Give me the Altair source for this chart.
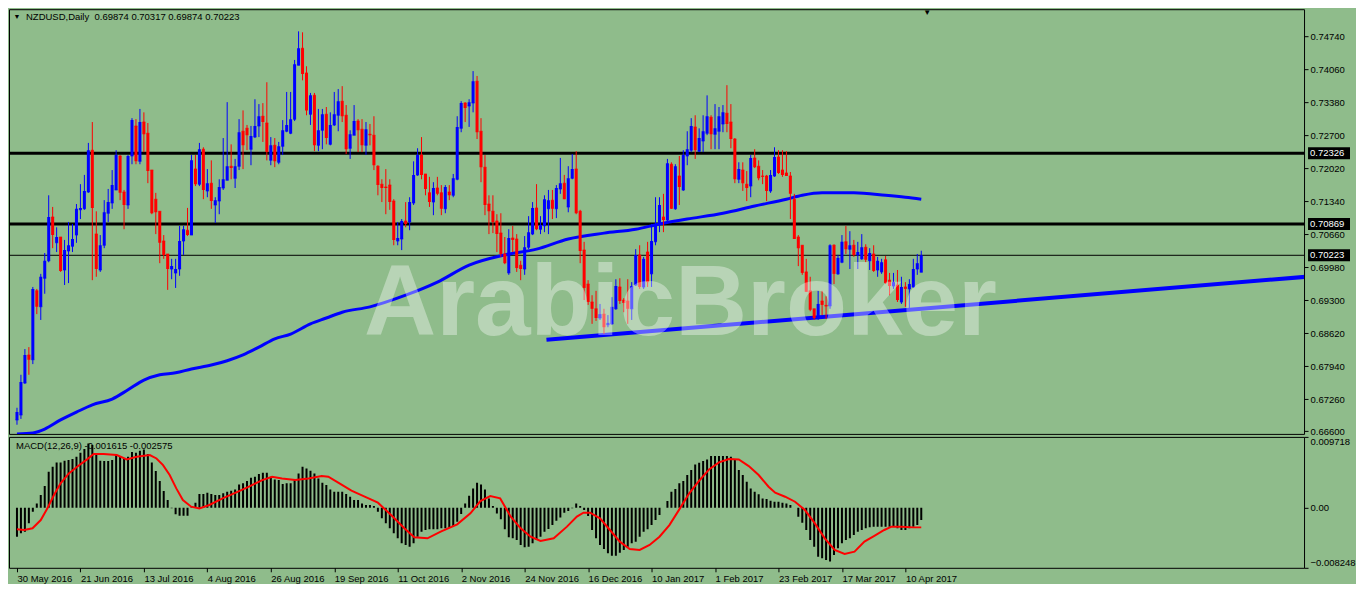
import altair as alt
import pandas as pd

GREEN = "#8FBC8B"
FONT = "Liberation Sans"
W = 1296
H_MAIN = 425
H_MACD = 131

opens = [0.6683, 0.6693, 0.6759, 0.6817, 0.6807, 0.6949, 0.6916, 0.6975, 0.7011, 0.7101,
         0.7048, 0.7060, 0.6992, 0.7031, 0.7041, 0.7064, 0.7116, 0.7118, 0.7153, 0.7239,
         0.7066, 0.6992, 0.7043, 0.7109, 0.7130, 0.7157, 0.7227, 0.7153, 0.7126, 0.7227,
         0.7289, 0.7216, 0.7297, 0.7274, 0.7198, 0.7138, 0.7113, 0.7052, 0.7025, 0.6994,
         0.6986, 0.6994, 0.7052, 0.7074, 0.7064, 0.7200, 0.7169, 0.7241, 0.7155, 0.7171,
         0.7126, 0.7134, 0.7161, 0.7177, 0.7206, 0.7181, 0.7206, 0.7278, 0.7284, 0.7241,
         0.7266, 0.7289, 0.7309, 0.7295, 0.7218, 0.7249, 0.7214, 0.7247, 0.7278, 0.7274,
         0.7303, 0.7414, 0.7449, 0.7398, 0.7313, 0.7352, 0.7249, 0.7280, 0.7313, 0.7251,
         0.7291, 0.7311, 0.7340, 0.7311, 0.7243, 0.7270, 0.7299, 0.7282, 0.7249, 0.7272,
         0.7270, 0.7206, 0.7169, 0.7163, 0.7167, 0.7134, 0.7052, 0.7056, 0.7093, 0.7091,
         0.7130, 0.7188, 0.7229, 0.7190, 0.7151, 0.7132, 0.7161, 0.7151, 0.7118, 0.7153,
         0.7146, 0.7179, 0.7284, 0.7336, 0.7330, 0.7336, 0.7381, 0.7278, 0.7204, 0.7128,
         0.7113, 0.7093, 0.7068, 0.7025, 0.6986, 0.7058, 0.7056, 0.7002, 0.6994, 0.7039,
         0.7066, 0.7120, 0.7076, 0.7083, 0.7118, 0.7136, 0.7118, 0.7159, 0.7171, 0.7122,
         0.7181, 0.7200, 0.7113, 0.7033, 0.6963, 0.6926, 0.6912, 0.6893, 0.6901, 0.6879,
         0.6881, 0.6912, 0.6957, 0.6930, 0.6928, 0.6912, 0.6961, 0.7023, 0.6957, 0.7029,
         0.6984, 0.7050, 0.7087, 0.7101, 0.7095, 0.7210, 0.7118, 0.7186, 0.7157, 0.7227,
         0.7239, 0.7287, 0.7237, 0.7258, 0.7274, 0.7307, 0.7272, 0.7278, 0.7293, 0.7315,
         0.7297, 0.7262, 0.7179, 0.7198, 0.7169, 0.7165, 0.7223, 0.7206, 0.7186, 0.7186,
         0.7155, 0.7186, 0.7225, 0.7198, 0.7192, 0.7186, 0.7138, 0.7060, 0.7043, 0.6988,
         0.6949, 0.6912, 0.6895, 0.6928, 0.6919, 0.6918, 0.7043, 0.6984, 0.7008, 0.7050,
         0.7035, 0.7043, 0.7023, 0.7015, 0.7039, 0.7011, 0.7025, 0.6992, 0.6988, 0.7013,
         0.6971, 0.6959, 0.6961, 0.6926, 0.6957, 0.6953, 0.6957, 0.6994, 0.69874]
highs = [0.6708, 0.6776, 0.6829, 0.6833, 0.6957, 0.6953, 0.6984, 0.7027, 0.7146, 0.7122,
         0.7080, 0.7060, 0.7054, 0.7091, 0.7087, 0.7128, 0.7169, 0.7188, 0.7254, 0.7297,
         0.7113, 0.7064, 0.7136, 0.7159, 0.7198, 0.7239, 0.7229, 0.7157, 0.7229, 0.7305,
         0.7303, 0.7324, 0.7317, 0.7295, 0.7198, 0.7151, 0.7113, 0.7064, 0.7025, 0.7015,
         0.7015, 0.7083, 0.7083, 0.7120, 0.7229, 0.7229, 0.7254, 0.7245, 0.7200, 0.7218,
         0.7142, 0.7179, 0.7264, 0.7338, 0.7251, 0.7221, 0.7303, 0.7321, 0.7291, 0.7289,
         0.7344, 0.7334, 0.7336, 0.7379, 0.7266, 0.7264, 0.7256, 0.7301, 0.7359, 0.7359,
         0.7425, 0.7484, 0.7482, 0.7412, 0.7357, 0.7357, 0.7324, 0.7324, 0.7328, 0.7317,
         0.7359, 0.7365, 0.7371, 0.7332, 0.7280, 0.7332, 0.7303, 0.7303, 0.7297, 0.7293,
         0.7309, 0.7208, 0.7179, 0.7200, 0.7179, 0.7138, 0.7091, 0.7097, 0.7132, 0.7142,
         0.7216, 0.7243, 0.7266, 0.7190, 0.7184, 0.7173, 0.7184, 0.7167, 0.7167, 0.7167,
         0.7190, 0.7309, 0.7340, 0.7338, 0.7344, 0.7402, 0.7392, 0.7305, 0.7229, 0.7146,
         0.7146, 0.7107, 0.7109, 0.7060, 0.7076, 0.7083, 0.7066, 0.7011, 0.7062, 0.7103,
         0.7132, 0.7169, 0.7103, 0.7146, 0.7157, 0.7157, 0.7167, 0.7223, 0.7188, 0.7206,
         0.7231, 0.7237, 0.7116, 0.7050, 0.6971, 0.6940, 0.6949, 0.6922, 0.6912, 0.6899,
         0.6936, 0.6973, 0.6975, 0.6934, 0.6973, 0.6967, 0.7035, 0.7043, 0.7019, 0.7050,
         0.7087, 0.7142, 0.7142, 0.7149, 0.7221, 0.7214, 0.7210, 0.7227, 0.7239, 0.7278,
         0.7305, 0.7311, 0.7284, 0.7311, 0.7352, 0.7311, 0.7334, 0.7328, 0.7332, 0.7373,
         0.7334, 0.7264, 0.7214, 0.7214, 0.7196, 0.7229, 0.7241, 0.7218, 0.7198, 0.7188,
         0.7198, 0.7245, 0.7239, 0.7239, 0.7237, 0.7194, 0.7149, 0.7064, 0.7043, 0.7015,
         0.6978, 0.6912, 0.6949, 0.6949, 0.6938, 0.7045, 0.7045, 0.7023, 0.7064, 0.7083,
         0.7072, 0.7054, 0.7050, 0.7066, 0.7045, 0.7037, 0.7043, 0.7019, 0.7015, 0.7021,
         0.6986, 0.6986, 0.6992, 0.6978, 0.6967, 0.6973, 0.7015, 0.7025, 0.70317]
lows = [0.6673, 0.6685, 0.6757, 0.6776, 0.6798, 0.6901, 0.6889, 0.6943, 0.7008, 0.7037,
        0.7029, 0.6988, 0.6961, 0.6965, 0.7029, 0.7048, 0.7097, 0.7116, 0.7151, 0.6971,
        0.6978, 0.6988, 0.7037, 0.7091, 0.7118, 0.7157, 0.7136, 0.7076, 0.7118, 0.7210,
        0.7210, 0.7210, 0.7235, 0.7171, 0.7107, 0.7066, 0.7006, 0.7015, 0.6951, 0.6973,
        0.6955, 0.6980, 0.7023, 0.7062, 0.7064, 0.7165, 0.7165, 0.7138, 0.7142, 0.7118,
        0.7089, 0.7107, 0.7157, 0.7177, 0.7179, 0.7161, 0.7198, 0.7200, 0.7239, 0.7208,
        0.7264, 0.7266, 0.7256, 0.7218, 0.7208, 0.7204, 0.7210, 0.7229, 0.7276, 0.7272,
        0.7299, 0.7414, 0.7383, 0.7311, 0.7291, 0.7237, 0.7237, 0.7241, 0.7251, 0.7249,
        0.7289, 0.7278, 0.7297, 0.7231, 0.7221, 0.7270, 0.7235, 0.7235, 0.7229, 0.7249,
        0.7198, 0.7146, 0.7132, 0.7107, 0.7116, 0.7043, 0.7043, 0.7033, 0.7080, 0.7074,
        0.7126, 0.7186, 0.7179, 0.7146, 0.7122, 0.7105, 0.7146, 0.7105, 0.7109, 0.7136,
        0.7142, 0.7177, 0.7276, 0.7297, 0.7287, 0.7317, 0.7262, 0.7173, 0.7105, 0.7066,
        0.7068, 0.7029, 0.7019, 0.7004, 0.6982, 0.7029, 0.6988, 0.6971, 0.6982, 0.7035,
        0.7064, 0.7074, 0.7066, 0.7070, 0.7066, 0.7097, 0.7099, 0.7149, 0.7138, 0.7111,
        0.7179, 0.7107, 0.7006, 0.6930, 0.6920, 0.6881, 0.6887, 0.6889, 0.6860, 0.6874,
        0.6879, 0.6910, 0.6922, 0.6905, 0.6881, 0.6889, 0.6959, 0.6953, 0.6953, 0.6957,
        0.6957, 0.7043, 0.7070, 0.7070, 0.7091, 0.7118, 0.7116, 0.7126, 0.7155, 0.7208,
        0.7235, 0.7221, 0.7235, 0.7235, 0.7270, 0.7241, 0.7241, 0.7241, 0.7276, 0.7276,
        0.7243, 0.7171, 0.7171, 0.7155, 0.7134, 0.7142, 0.7202, 0.7177, 0.7169, 0.7134,
        0.7151, 0.7184, 0.7190, 0.7184, 0.7186, 0.7097, 0.7056, 0.7000, 0.6982, 0.6947,
        0.6907, 0.6889, 0.6889, 0.6899, 0.6891, 0.6912, 0.6963, 0.6982, 0.7006, 0.7025,
        0.6994, 0.7019, 0.6994, 0.7013, 0.7008, 0.6992, 0.6988, 0.6978, 0.6984, 0.6963,
        0.6940, 0.6953, 0.6926, 0.6922, 0.6916, 0.6912, 0.6955, 0.6982, 0.69874]
closes = [0.6699, 0.6761, 0.6817, 0.6807, 0.6953, 0.6916, 0.6978, 0.7011, 0.7101, 0.7064,
          0.7060, 0.6990, 0.7033, 0.7043, 0.7056, 0.7118, 0.7120, 0.7155, 0.7239, 0.7120,
          0.6994, 0.7043, 0.7111, 0.7132, 0.7167, 0.7229, 0.7151, 0.7126, 0.7227, 0.7301,
          0.7216, 0.7297, 0.7272, 0.7196, 0.7109, 0.7111, 0.7048, 0.7023, 0.6994, 0.7000,
          0.6994, 0.7052, 0.7076, 0.7064, 0.7218, 0.7169, 0.7241, 0.7157, 0.7171, 0.7134,
          0.7136, 0.7163, 0.7179, 0.7206, 0.7202, 0.7206, 0.7276, 0.7249, 0.7270, 0.7268,
          0.7289, 0.7309, 0.7297, 0.7235, 0.7249, 0.7216, 0.7247, 0.7280, 0.7291, 0.7303,
          0.7416, 0.7449, 0.7396, 0.7321, 0.7352, 0.7249, 0.7280, 0.7313, 0.7264, 0.7291,
          0.7313, 0.7340, 0.7309, 0.7241, 0.7272, 0.7299, 0.7280, 0.7249, 0.7282, 0.7270,
          0.7208, 0.7167, 0.7161, 0.7161, 0.7132, 0.7054, 0.7058, 0.7093, 0.7087, 0.7132,
          0.7188, 0.7229, 0.7188, 0.7159, 0.7132, 0.7161, 0.7149, 0.7118, 0.7163, 0.7146,
          0.7181, 0.7287, 0.7336, 0.7326, 0.7338, 0.7381, 0.7276, 0.7204, 0.7126, 0.7113,
          0.7091, 0.7066, 0.7025, 0.7006, 0.7058, 0.7054, 0.6996, 0.6994, 0.7039, 0.7070,
          0.7120, 0.7076, 0.7085, 0.7138, 0.7136, 0.7118, 0.7161, 0.7171, 0.7138, 0.7181,
          0.7200, 0.7109, 0.7031, 0.6955, 0.6926, 0.6912, 0.6893, 0.6901, 0.6874, 0.6883,
          0.6916, 0.6959, 0.6928, 0.6924, 0.6912, 0.6959, 0.7023, 0.6957, 0.7015, 0.6967,
          0.7052, 0.7085, 0.7126, 0.7095, 0.7212, 0.7118, 0.7206, 0.7163, 0.7229, 0.7241,
          0.7289, 0.7239, 0.7264, 0.7278, 0.7309, 0.7272, 0.7284, 0.7309, 0.7317, 0.7293,
          0.7262, 0.7179, 0.7200, 0.7171, 0.7161, 0.7223, 0.7204, 0.7181, 0.7184, 0.7155,
          0.7188, 0.7225, 0.7192, 0.7188, 0.7186, 0.7149, 0.7056, 0.7037, 0.6986, 0.6947,
          0.6910, 0.6893, 0.6922, 0.6920, 0.6917, 0.7043, 0.6984, 0.7017, 0.7050, 0.7035,
          0.7043, 0.7023, 0.7029, 0.7039, 0.7013, 0.7027, 0.6990, 0.7011, 0.7008, 0.6965,
          0.6959, 0.6967, 0.6930, 0.6957, 0.6953, 0.6963, 0.6994, 0.7006, 0.70223]

macd_hist = [-0.00398, -0.00352, -0.00329, -0.00215, -0.00055, 0.00059, 0.00174, 0.00297, 0.00494, 0.00562,
             0.00622, 0.00622, 0.00644, 0.00654, 0.00667, 0.00699, 0.00754, 0.00804, 0.00882, 0.00859,
             0.00722, 0.00644, 0.00640, 0.00640, 0.00654, 0.00722, 0.00708, 0.00667, 0.00699, 0.00763,
             0.00754, 0.00781, 0.00800, 0.00736, 0.00622, 0.00503, 0.00366, 0.00229, 0.00105, -0.00009,
             -0.00091, -0.00110, -0.00110, -0.00110, 0.00005, 0.00069, 0.00187, 0.00187, 0.00206, 0.00187,
             0.00174, 0.00174, 0.00197, 0.00219, 0.00233, 0.00251, 0.00320, 0.00334, 0.00366, 0.00411,
             0.00425, 0.00462, 0.00480, 0.00480, 0.00425, 0.00388, 0.00379, 0.00324, 0.00334, 0.00334,
             0.00388, 0.00471, 0.00562, 0.00539, 0.00507, 0.00471, 0.00402, 0.00343, 0.00311, 0.00251,
             0.00219, 0.00219, 0.00219, 0.00187, 0.00151, 0.00105, 0.00105, 0.00059, 0.00037, 0.00037,
             0.00023, -0.00055, -0.00146, -0.00215, -0.00283, -0.00352, -0.00420, -0.00489, -0.00512, -0.00535,
             -0.00489, -0.00398, -0.00329, -0.00306, -0.00297, -0.00297, -0.00297, -0.00283, -0.00283, -0.00274,
             -0.00251, -0.00192, -0.00087, 0.00059, 0.00165, 0.00265, 0.00343, 0.00320, 0.00251, 0.00128,
             0.00023, -0.00078, -0.00160, -0.00297, -0.00407, -0.00420, -0.00443, -0.00512, -0.00544, -0.00535,
             -0.00489, -0.00443, -0.00398, -0.00329, -0.00292, -0.00238, -0.00178, -0.00133, -0.00069, -0.00046,
             -0.00009, 0.00059, 0.00023, -0.00032, -0.00114, -0.00306, -0.00420, -0.00512, -0.00567, -0.00626,
             -0.00658, -0.00658, -0.00617, -0.00580, -0.00535, -0.00489, -0.00466, -0.00398, -0.00329, -0.00297,
             -0.00238, -0.00169, -0.00101, 0.00000, 0.00091, 0.00219, 0.00256, 0.00334, 0.00366, 0.00448,
             0.00516, 0.00594, 0.00617, 0.00640, 0.00663, 0.00708, 0.00708, 0.00708, 0.00708, 0.00708,
             0.00699, 0.00654, 0.00516, 0.00448, 0.00356, 0.00265, 0.00219, 0.00183, 0.00128, 0.00119,
             0.00096, 0.00082, 0.00082, 0.00069, 0.00059, 0.00037, 0.00000, -0.00123, -0.00206, -0.00306,
             -0.00443, -0.00535, -0.00672, -0.00695, -0.00717, -0.00740, -0.00649, -0.00558, -0.00489, -0.00443,
             -0.00420, -0.00375, -0.00329, -0.00306, -0.00283, -0.00270, -0.00260, -0.00260, -0.00260, -0.00260,
             -0.00260, -0.00260, -0.00283, -0.00306, -0.00306, -0.00283, -0.00260, -0.00238, -0.00169]

ma_idx = [0, 4, 7, 11, 15, 19, 24, 28, 32, 36, 40, 44, 49, 53, 57, 61, 65, 69, 74, 78, 82, 89, 98,
          106, 114, 123, 131, 139, 148, 156, 162, 169, 178, 186, 194, 198, 203, 211, 219, 224, 228]
ma_val = [0.6654, 0.6656, 0.6664, 0.6683, 0.6699, 0.6714, 0.6726, 0.6745, 0.6765, 0.6776, 0.6780,
          0.6788, 0.6796, 0.6805, 0.6817, 0.6833, 0.6850, 0.6860, 0.6881, 0.6893, 0.6905, 0.6916,
          0.6940, 0.6967, 0.7002, 0.7023, 0.7035, 0.7056, 0.7068, 0.7076, 0.7087, 0.7097, 0.7109,
          0.7124, 0.7138, 0.7146, 0.7151, 0.7151, 0.7146, 0.7142, 0.7138]

sig_idx = [0, 1.83, 3.92, 6.0, 7.67, 9.33, 11.0, 13.08, 15.17, 17.67, 19.33, 21.83, 25.17, 27.67,
           30.17, 33.5, 35.17, 36.83, 38.5, 40.17, 41.83, 43.92, 46.0, 48.5, 51.83, 55.17, 58.5,
           61.83, 64.33, 66.83, 70.17, 73.5, 76.83, 78.5, 81.0, 84.33, 87.67, 91.0, 94.33, 97.67,
           100.17, 103.5, 106.83, 111.0, 114.33, 116.83, 119.33, 121.83, 124.5, 127, 129.5, 132,
           135.33, 138.67, 141.17, 142.83, 144.5, 147, 149.5, 152, 154.5, 157, 159.5, 162, 164.5,
           167, 169.5, 172, 174.5, 177, 179.5, 182, 184.5, 187, 189.5, 191.17, 193.67, 196.17,
           198.67, 201.17, 203.67, 206.17, 208.67, 211.17, 213.67, 216.17, 218.67, 220.5, 223,
           226, 228]
sig_val = [-0.00297, -0.00306, -0.00283, -0.00169, -0.00009, 0.00174, 0.00334, 0.00471, 0.00562,
           0.00663, 0.00736, 0.00736, 0.00722, 0.00663, 0.00699, 0.00722, 0.00676, 0.00585, 0.00448,
           0.00265, 0.00105, 0.00014, -0.00009, 0.00037, 0.00128, 0.00206, 0.00288, 0.00379, 0.00425,
           0.00402, 0.00379, 0.00402, 0.00434, 0.00425, 0.00343, 0.00233, 0.00151, 0.00069, -0.00101,
           -0.00283, -0.00407, -0.00420, -0.00329, -0.00229, -0.00078, 0.00091, 0.00160, 0.00128,
           -0.00123, -0.00283, -0.00398, -0.00457, -0.00420, -0.00260, -0.00123, -0.00069, -0.00069,
           -0.00146, -0.00306, -0.00466, -0.00567, -0.00580, -0.00512, -0.00398, -0.00238, -0.00023,
           0.00197, 0.00370, 0.00526, 0.00622, 0.00667, 0.00663, 0.00571, 0.00448, 0.00288, 0.00206,
           0.00151, 0.00082, -0.00032, -0.00215, -0.00420, -0.00580, -0.00635, -0.00603, -0.00466,
           -0.00388, -0.00306, -0.00260, -0.00260, -0.00270, -0.00270]

trend_idx = [133.5, 328]
trend_val = [0.6848, 0.6980]
hline_thick = [0.72326, 0.70869]
hline_thin = [0.70223]
label_levels = [0.72326, 0.70869, 0.70223]
price_ticks = [0.7474, 0.7406, 0.7338, 0.7270, 0.7202, 0.7134, 0.7066, 0.6998, 0.6930,
               0.6862, 0.6794, 0.6726, 0.6660]
macd_ticks = [0.009718, 0.0, -0.008248]
date_ticks = [0, 16, 32, 48, 64, 80, 96, 112, 128, 144, 160, 176, 192, 208, 224]
date_labels = ["30 May 2016", "21 Jun 2016", "13 Jul 2016", "4 Aug 2016", "26 Aug 2016",
               "19 Sep 2016", "11 Oct 2016", "2 Nov 2016", "24 Nov 2016", "16 Dec 2016",
               "10 Jan 2017", "1 Feb 2017", "23 Feb 2017", "17 Mar 2017", "10 Apr 2017"]
header = "NZDUSD,Daily\u00a0\u00a00.69874 0.70317 0.69874 0.70223"
macd_title = "MACD(12,26,9) -0.001615 -0.002575"
watermark = "ArabicBroker"

# ---------- tables ----------
n = len(closes)
df = pd.DataFrame({"i": list(range(n)), "o": opens, "h": highs, "l": lows, "c": closes,
                   "macd": macd_hist})
df["dir"] = ["up" if c >= o else "down" for o, c in zip(opens, closes)]
df["top"] = df[["o", "c"]].max(axis=1)
df["bot"] = df[["o", "c"]].min(axis=1)
df_ma = pd.DataFrame({"i": ma_idx, "v": ma_val})
df_sig = pd.DataFrame({"i": sig_idx, "v": sig_val})
df_tr = pd.DataFrame({"i": trend_idx, "v": trend_val})

xscale = alt.Scale(domain=[-0.75, -0.75 + W / 4.0], nice=False, zero=False)
yscale = alt.Scale(domain=[0.66541, 0.75296], nice=False, zero=False)
mscale = alt.Scale(domain=[-0.008248, 0.009718], nice=False, zero=False)

price_axis = alt.Axis(orient="right", values=price_ticks, format=".5f", title=None, grid=False,
                      domain=False, tickSize=4, tickColor="black", labelColor="black",
                      labelFont=FONT, labelFontSize=9.5, labelPadding=2, labelOverlap=False,
                      labelFlush=False)
macd_axis = alt.Axis(orient="right", values=macd_ticks, title=None, grid=False, domain=False,
                     tickSize=4, tickColor="black", labelColor="black", labelFont=FONT,
                     labelFontSize=9.5, labelPadding=2, labelOverlap=False, labelFlush=True,
                     labelExpr="datum.value == 0 ? '0.00' : format(datum.value, '.6f')")
date_expr = " : ".join(f"datum.value == {t} ? '{s}'" for t, s in zip(date_ticks, date_labels)) + " : ''"
date_axis = alt.Axis(values=date_ticks, labelExpr=date_expr, title=None, grid=False, domain=False,
                     tickSize=4, tickColor="black", labelColor="black", labelFont=FONT,
                     labelFontSize=9.5, labelAlign="left", labelFlush=False, labelPadding=2,
                     labelOverlap=False)


def X():
    return alt.X("i:Q", scale=xscale, axis=None)


def PY(field):
    return alt.Y(f"{field}:Q", scale=yscale, axis=price_axis)


color = alt.Color("dir:N", scale=alt.Scale(domain=["up", "down"], range=["#0000FF", "#FF0000"]),
                  legend=None)

base = alt.Chart(df)
wicks = base.mark_rule(strokeWidth=1, clip=True).encode(x=X(), y=PY("l"), y2="h:Q", color=color)
bodies = base.mark_bar(size=3, clip=True).encode(x=X(), y=PY("bot"), y2="top:Q", color=color)
dojis = base.mark_tick(orient="horizontal", size=3, thickness=1, clip=True).encode(
    x=X(), y=PY("o"), color=color)

thick = alt.Chart(pd.DataFrame({"v": hline_thick})).mark_rule(
    color="black", strokeWidth=3, clip=True).encode(y=PY("v"))
thin = alt.Chart(pd.DataFrame({"v": hline_thin})).mark_rule(
    color="black", strokeWidth=1, clip=True).encode(y=PY("v"))
ma = alt.Chart(df_ma).mark_line(color="#0000FF", strokeWidth=3, interpolate="monotone",
                                clip=True).encode(x=X(), y=PY("v"))
trend = alt.Chart(df_tr).mark_line(color="#0000FF", strokeWidth=4, clip=True).encode(x=X(), y=PY("v"))

df_lbl = pd.DataFrame({"v": label_levels})
lbl_box = alt.Chart(df_lbl).mark_tick(orient="horizontal", size=42, thickness=12, color="black",
                                      opacity=1).encode(x=alt.value(W + 25), y=PY("v"))
lbl_txt = alt.Chart(df_lbl).mark_text(align="left", baseline="middle", color="white", font=FONT,
                                      fontSize=9.5).encode(
    x=alt.value(W + 6), y=PY("v"), text=alt.Text("v:Q", format=".5f"))

hdr = alt.Chart(pd.DataFrame({"t": [header]})).mark_text(
    align="left", baseline="middle", font=FONT, fontSize=9.5, color="black").encode(
    text="t:N", x=alt.value(17), y=alt.value(8))
tri1 = alt.Chart(pd.DataFrame({"t": ["\u25bc"]})).mark_text(
    align="center", baseline="middle", fontSize=7, color="black").encode(
    text="t:N", x=alt.value(8), y=alt.value(8))
tri2 = alt.Chart(pd.DataFrame({"t": ["\u25bc"]})).mark_text(
    align="center", baseline="top", fontSize=8, color="black").encode(
    text="t:N", x=alt.value(919), y=alt.value(0))
wm = alt.Chart(pd.DataFrame({"t": [watermark]})).mark_text(
    align="center", baseline="alphabetic", font=FONT, fontWeight="bold", fontSize=100,
    color="white", opacity=0.37).encode(text="t:N", x=alt.value(672), y=alt.value(326))

main = alt.layer(thick, thin, ma, trend, wicks, bodies, dojis, lbl_box, lbl_txt, hdr, tri1, tri2,
                 wm).properties(width=W, height=H_MAIN)

xm = alt.X("i:Q", scale=xscale, axis=date_axis)
bars = alt.Chart(df).mark_bar(size=2, color="black", clip=True).encode(
    x=xm, y=alt.Y("macd:Q", scale=mscale, axis=macd_axis))
sig = alt.Chart(df_sig).mark_line(color="#FF0000", strokeWidth=2, clip=True).encode(
    x=xm, y=alt.Y("v:Q", scale=mscale, axis=macd_axis))
mt = alt.Chart(pd.DataFrame({"t": [macd_title]})).mark_text(
    align="left", baseline="middle", font=FONT, fontSize=9.5, color="black").encode(
    text="t:N", x=alt.value(7), y=alt.value(9))
macd = alt.layer(bars, sig, mt).properties(width=W, height=H_MACD)

chart = alt.vconcat(main, macd, spacing=3, bounds="flush", padding=0,
                    background=GREEN).configure_view(fill=GREEN, stroke="black", strokeWidth=1)

chart.save("out.html", embed_options={"renderer": "svg", "actions": False})
